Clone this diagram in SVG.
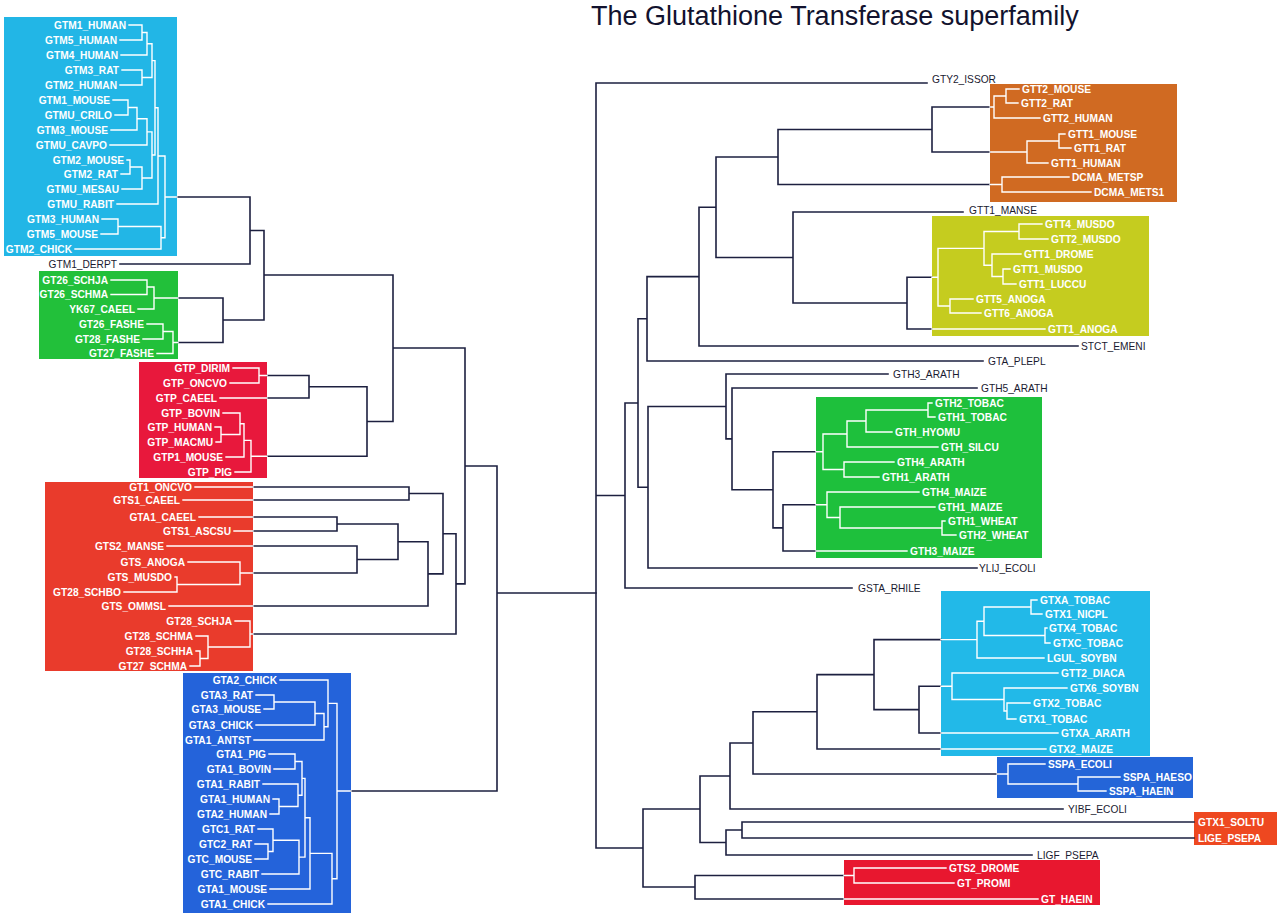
<svg xmlns="http://www.w3.org/2000/svg" width="1280" height="917" viewBox="0 0 1280 917">
<style>
.k{fill:none;stroke:#1d2040;stroke-width:1.6;stroke-linecap:square}
.w{fill:none;stroke:#ffffff;stroke-width:1.4;stroke-linecap:square}
.b{font-family:"Liberation Sans",Arial,sans-serif;font-weight:bold;font-size:10.2px;fill:#ffffff}
.e{text-anchor:end}
.o{font-family:"Liberation Sans",Arial,sans-serif;font-size:10.2px;fill:#1a1a30}
.t{font-family:"Liberation Sans",Arial,sans-serif;font-size:27px;fill:#12122e}
</style>
<rect width="1280" height="917" fill="#ffffff"/>
<text class="t" x="591" y="25">The Glutathione Transferase superfamily</text>

<g id="clade-mu">
<rect x="4" y="17" width="173" height="239" fill="#22b6e6"/>
<g class="b e">
<text x="126" y="28.6">GTM1_HUMAN</text>
<text x="117" y="43.6">GTM5_HUMAN</text>
<text x="118" y="58.6">GTM4_HUMAN</text>
<text x="119" y="73.6">GTM3_RAT</text>
<text x="117" y="88.6">GTM2_HUMAN</text>
<text x="110" y="103.6">GTM1_MOUSE</text>
<text x="112" y="118.6">GTMU_CRILO</text>
<text x="108" y="133.6">GTM3_MOUSE</text>
<text x="107" y="148.6">GTMU_CAVPO</text>
<text x="124" y="163.6">GTM2_MOUSE</text>
<text x="118" y="177.6">GTM2_RAT</text>
<text x="119" y="192.6">GTMU_MESAU</text>
<text x="114" y="207.6">GTMU_RABIT</text>
<text x="99" y="222.6">GTM3_HUMAN</text>
<text x="98" y="237.6">GTM5_MOUSE</text>
<text x="72" y="252.6">GTM2_CHICK</text>
</g>
</g>
<g id="leaf-GTM1_DERPT"><text class="o e" x="117" y="267.6">GTM1_DERPT</text></g>

<g id="clade-schisto">
<rect x="39" y="271" width="139" height="88" fill="#22c03a"/>
<g class="b e">
<text x="108" y="283.6">GT26_SCHJA</text>
<text x="108" y="298.1">GT26_SCHMA</text>
<text x="135" y="312.6">YK67_CAEEL</text>
<text x="144" y="327.6">GT26_FASHE</text>
<text x="140" y="342.6">GT28_FASHE</text>
<text x="154" y="357.1">GT27_FASHE</text>
</g>
</g>

<g id="clade-pi">
<rect x="139" y="362" width="128" height="116" fill="#e8183c"/>
<g class="b e">
<text x="230" y="371.6">GTP_DIRIM</text>
<text x="227" y="386.6">GTP_ONCVO</text>
<text x="217" y="401.6">GTP_CAEEL</text>
<text x="220" y="416.6">GTP_BOVIN</text>
<text x="212" y="430.6">GTP_HUMAN</text>
<text x="213" y="445.6">GTP_MACMU</text>
<text x="223" y="460.6">GTP1_MOUSE</text>
<text x="232" y="475.6">GTP_PIG</text>
</g>
</g>

<g id="clade-sigma">
<rect x="45" y="482" width="208" height="189" fill="#e93b2c"/>
<g class="b e">
<text x="192" y="490.6">GT1_ONCVO</text>
<text x="180" y="503.6">GTS1_CAEEL</text>
<text x="196" y="520.6">GTA1_CAEEL</text>
<text x="231" y="534.6">GTS1_ASCSU</text>
<text x="164" y="549.6">GTS2_MANSE</text>
<text x="185" y="565.6">GTS_ANOGA</text>
<text x="172" y="580.6">GTS_MUSDO</text>
<text x="121" y="595.6">GT28_SCHBO</text>
<text x="166" y="609.6">GTS_OMMSL</text>
<text x="232" y="624.6">GT28_SCHJA</text>
<text x="193" y="639.6">GT28_SCHMA</text>
<text x="193" y="654.6">GT28_SCHHA</text>
<text x="187" y="669.6">GT27_SCHMA</text>
</g>
</g>

<g id="clade-alpha">
<rect x="183" y="673" width="168" height="240" fill="#2463da"/>
<g class="b e">
<text x="277" y="683.6">GTA2_CHICK</text>
<text x="253" y="698.6">GTA3_RAT</text>
<text x="261" y="712.6">GTA3_MOUSE</text>
<text x="253" y="728.6">GTA3_CHICK</text>
<text x="251" y="743.6">GTA1_ANTST</text>
<text x="266" y="757.6">GTA1_PIG</text>
<text x="271" y="772.6">GTA1_BOVIN</text>
<text x="260" y="787.6">GTA1_RABIT</text>
<text x="270" y="802.6">GTA1_HUMAN</text>
<text x="267" y="817.6">GTA2_HUMAN</text>
<text x="255" y="832.6">GTC1_RAT</text>
<text x="252" y="847.6">GTC2_RAT</text>
<text x="252" y="862.6">GTC_MOUSE</text>
<text x="259" y="877.6">GTC_RABIT</text>
<text x="267" y="892.6">GTA1_MOUSE</text>
<text x="265" y="907.6">GTA1_CHICK</text>
</g>
</g>

<g id="leaf-GTY2_ISSOR"><text class="o" x="932" y="83.2">GTY2_ISSOR</text></g>

<g id="clade-theta-mammal">
<rect x="990" y="84" width="187" height="118" fill="#d06a22"/>
<g class="b">
<text x="1022" y="92.6">GTT2_MOUSE</text>
<text x="1021" y="106.6">GTT2_RAT</text>
<text x="1043" y="121.6">GTT2_HUMAN</text>
<text x="1068" y="137.6">GTT1_MOUSE</text>
<text x="1074" y="151.6">GTT1_RAT</text>
<text x="1051" y="166.6">GTT1_HUMAN</text>
<text x="1072" y="180.6">DCMA_METSP</text>
<text x="1094" y="195.6">DCMA_METS1</text>
</g>
</g>

<g id="leaf-GTT1_MANSE"><text class="o" x="969" y="214.2">GTT1_MANSE</text></g>

<g id="clade-theta-insect">
<rect x="932" y="216" width="217" height="120" fill="#c5cc1f"/>
<g class="b">
<text x="1045" y="227.6">GTT4_MUSDO</text>
<text x="1051" y="242.6">GTT2_MUSDO</text>
<text x="1024" y="257.6">GTT1_DROME</text>
<text x="1013" y="272.6">GTT1_MUSDO</text>
<text x="1019" y="287.6">GTT1_LUCCU</text>
<text x="976" y="302.6">GTT5_ANOGA</text>
<text x="984" y="316.6">GTT6_ANOGA</text>
<text x="1048" y="332.6">GTT1_ANOGA</text>
</g>
</g>

<g id="leaf-STCT_EMENI"><text class="o" x="1081" y="349.6">STCT_EMENI</text></g>
<g id="leaf-GTA_PLEPL"><text class="o" x="988" y="364.6">GTA_PLEPL</text></g>
<g id="leaf-GTH3_ARATH"><text class="o" x="893" y="377.6">GTH3_ARATH</text></g>
<g id="leaf-GTH5_ARATH"><text class="o" x="981" y="391.6">GTH5_ARATH</text></g>

<g id="clade-phi">
<rect x="816" y="397" width="226" height="161" fill="#1ec03c"/>
<g class="b">
<text x="935" y="406.6">GTH2_TOBAC</text>
<text x="938" y="420.6">GTH1_TOBAC</text>
<text x="895" y="435.6">GTH_HYOMU</text>
<text x="941" y="450.6">GTH_SILCU</text>
<text x="897" y="465.6">GTH4_ARATH</text>
<text x="882" y="480.6">GTH1_ARATH</text>
<text x="922" y="495.6">GTH4_MAIZE</text>
<text x="938" y="510.6">GTH1_MAIZE</text>
<text x="948" y="524.6">GTH1_WHEAT</text>
<text x="959" y="538.6">GTH2_WHEAT</text>
<text x="910" y="554.6">GTH3_MAIZE</text>
</g>
</g>

<g id="leaf-YLIJ_ECOLI"><text class="o" x="979" y="571.6">YLIJ_ECOLI</text></g>
<g id="leaf-GSTA_RHILE"><text class="o" x="858" y="591.6">GSTA_RHILE</text></g>

<g id="clade-tau">
<rect x="941" y="591" width="209" height="165" fill="#22b9e8"/>
<g class="b">
<text x="1040" y="603.6">GTXA_TOBAC</text>
<text x="1045" y="617.6">GTX1_NICPL</text>
<text x="1049" y="631.6">GTX4_TOBAC</text>
<text x="1053" y="646.6">GTXC_TOBAC</text>
<text x="1047" y="661.6">LGUL_SOYBN</text>
<text x="1061" y="676.6">GTT2_DIACA</text>
<text x="1070" y="691.6">GTX6_SOYBN</text>
<text x="1033" y="706.6">GTX2_TOBAC</text>
<text x="1019" y="722.6">GTX1_TOBAC</text>
<text x="1061" y="736.6">GTXA_ARATH</text>
<text x="1049" y="752.6">GTX2_MAIZE</text>
</g>
</g>

<g id="clade-sspa">
<rect x="997" y="757" width="196" height="41" fill="#2465d8"/>
<g class="b">
<text x="1048" y="767.6">SSPA_ECOLI</text>
<text x="1123" y="780.6">SSPA_HAESO</text>
<text x="1109" y="794.6">SSPA_HAEIN</text>
</g>
</g>

<g id="leaf-YIBF_ECOLI"><text class="o" x="1068" y="812.6">YIBF_ECOLI</text></g>

<g id="clade-lig">
<rect x="1194" y="812" width="83" height="33" fill="#ee4820"/>
<g class="b">
<text x="1198" y="825.6">GTX1_SOLTU</text>
<text x="1198" y="841.6">LIGE_PSEPA</text>
</g>
</g>

<g id="leaf-LIGF_PSEPA"><text class="o" x="1037" y="858.6">LIGF_PSEPA</text></g>

<g id="clade-beta">
<rect x="844" y="860" width="256" height="45" fill="#e8172f"/>
<g class="b">
<text x="949" y="871.6">GTS2_DROME</text>
<text x="957" y="886.6">GT_PROMI</text>
<text x="1041" y="902.6">GT_HAEIN</text>
</g>
</g>

<g id="connectors">
<path class="k" d="M177 197H250 M120 264H250 M250 197V264 M250 230.5H264 M264 230.5V320 M264 275H393 M178 298H223 M178 342.5H223 M223 298V342.5 M223 320H264 M267 375.5H309 M267 398H309 M309 375.5V398 M309 386.75H367 M267 456.2H367 M367 386.75V456.2 M367 421.5H393 M393 275V421.5 M393 348H465 M253 487H409 M253 500H409 M409 487V500 M409 493.5H443 M253 517H337 M253 531H337 M337 517V531 M337 524H398 M253 546H357 M253 573H357 M357 546V573 M357 559.5H398 M398 524V559.5 M398 541.75H428 M253 606H428 M428 541.75V606 M428 573.9H443 M443 493.5V573.9 M443 533.7H456 M253 634H456 M456 533.7V634 M456 583.85H465 M465 348V583.85 M465 466H497 M351 791H497 M497 466V791 M497 593H596"/>
<path class="k" d="M596 83V848 M596 83H927 M932 107H990 M932 152H990 M932 107V152 M778 129.5H932 M778 184.5H990 M778 129.5V184.5 M716 157H778 M793 212H963 M907 277.2H932 M907 329H932 M907 277.2V329 M793 303H907 M793 212V303 M716 257.5H793 M716 157V257.5 M699 207.25H716 M699 346H1078 M699 207.25V346 M647 276.6H699 M647 361H983 M647 276.6V361 M638 318.8H647 M726 374H888 M732 388H977 M773 451.75H816 M783 504.75H816 M783 551H816 M783 504.75V551 M773 527.9H783 M773 451.75V527.9 M732 489.8H773 M732 388V489.8 M726 438.9H732 M726 374V438.9 M648 406.5H726 M648 568H977 M648 406.5V568 M638 487.3H648 M638 318.8V487.3 M625 403H638 M625 588H852 M625 403V588 M596 495.5H625 M874 639.6H941 M919 686.25H941 M919 733H941 M919 686.25V733 M874 709.6H919 M874 639.6V709.6 M817 674.6H874 M817 749H941 M817 674.6V749 M753 711.8H817 M753 774H997 M753 711.8V774 M730 743H753 M730 809H1063 M730 743V809 M700 776H730 M742 822H1194 M742 838H1194 M742 822V838 M726 830H742 M726 855H1032 M726 830V855 M700 842.5H726 M700 776V842.5 M643 809H700 M695 875.5H844 M695 899H844 M695 875.5V899 M643 887H695 M643 809V887 M596 848H643"/>
<path class="w" d="M129 25H142 M120 40H142 M121 55H147 M122 70H142 M120 85H142 M113 100H128 M115 115H128 M111 130H137 M110 145H147 M127 160H130 M121 174H130 M122 189H142 M117 204H158 M102 219H118 M101 234H118 M75 249H161 M142 25V40 M142 32.5H147 M147 32.5V55 M142 70V85 M147 43.75H152 M142 77.5H152 M152 43.75V77.5 M128 100V115 M128 107.5H137 M137 107.5V130 M137 118.75H147 M147 118.75V145 M130 160V174 M130 167H142 M142 167V189 M147 131.9H152 M142 178H152 M152 131.9V178 M152 60.6H155 M152 155H155 M155 60.6V155 M155 107.8H158 M158 107.8V204 M118 219V234 M118 226.5H161 M161 226.5V249 M158 156H165 M161 237.75H165 M165 156V237.75 M165 197H177"/>
<path class="w" d="M111 280H147 M111 294.5H147 M138 309H154 M147 324H163 M143 339H163 M157 353.5H173 M147 280V294.5 M147 287H154 M154 287V309 M154 298H178 M163 324V339 M163 331.5H173 M173 331.5V353.5 M173 342.5H178"/>
<path class="w" d="M233 368H259 M230 383H259 M220 398H267 M223 413H240 M215 427H221 M216 442H221 M226 457H244 M235 472H251 M259 368V383 M259 375.5H267 M221 427V442 M221 434.5H240 M240 413V434.5 M240 423.75H244 M244 423.75V457 M244 440.4H251 M251 440.4V472 M251 456.2H267"/>
<path class="w" d="M195 487H253 M183 500H253 M199 517H253 M234 531H253 M167 546H253 M188 562H240 M175 577H177 M124 592H177 M169 606H253 M235 621H250 M196 636H208 M196 651H200 M190 666H200 M177 577V592 M177 584.5H240 M240 562V584.5 M240 573H253 M200 651V666 M200 658.5H208 M208 636V658.5 M208 647H250 M250 621V647 M250 634H253"/>
<path class="w" d="M280 680H328 M256 695H274 M264 709H274 M256 725H315 M254 740H324 M269 754H295 M274 769H295 M263 784H298 M273 799H279 M270 814H279 M258 829H273 M255 844H268 M255 859H268 M262 874H299 M270 889H310 M268 904H332 M274 695V709 M274 702H315 M315 702V725 M315 713.5H324 M324 713.5V740 M324 726.75H328 M328 680V726.75 M328 703.4H337 M295 754V769 M295 761.5H302 M279 799V814 M279 806.5H298 M298 784V806.5 M298 795.25H302 M302 761.5V795.25 M302 778.4H305 M268 844V859 M268 851.5H273 M273 829V851.5 M273 840.25H299 M299 840.25V874 M299 857.1H305 M305 778.4V857.1 M305 817.75H310 M310 817.75V889 M310 853.4H332 M332 853.4V904 M332 878.7H337 M337 703.4V878.7 M337 791H351"/>
<path class="w" d="M1006 89H1019 M1006 103H1018 M994 118H1040 M1059 134H1065 M1059 148H1071 M1027 163H1048 M1002 177H1069 M1002 192H1091 M1006 89V103 M994 96H1006 M994 96V118 M990 107H994 M1059 134V148 M1027 141H1059 M1027 141V163 M990 152H1027 M1002 177V192 M990 184.5H1002"/>
<path class="w" d="M1019 224H1042 M1019 239H1048 M992 254H1021 M1003 269H1010 M1003 284H1016 M950 299H973 M950 313H981 M932 329H1045 M1019 224V239 M984 231.5H1019 M1003 269V284 M992 276.5H1003 M992 254V276.5 M984 265.25H992 M984 231.5V265.25 M938 248.4H984 M950 299V313 M938 306H950 M938 248.4V306 M932 277.2H938"/>
<path class="w" d="M928 403H932 M928 417H935 M866 432H892 M847 447H938 M844 462H894 M844 477H879 M827 492H919 M840 507H935 M942 521H945 M942 535H956 M816 551H907 M928 403V417 M866 410H928 M866 410V432 M847 421H866 M847 421V447 M823 434H847 M844 462V477 M823 469.5H844 M823 434V469.5 M816 451.75H823 M942 521V535 M840 528H942 M840 507V528 M827 517.5H840 M827 492V517.5 M816 504.75H827"/>
<path class="w" d="M1031 600H1037 M1031 614H1042 M1045 628H1047 M1045 643H1050 M977 658H1044 M952 673H1058 M1004 688H1067 M1007 703H1030 M1007 719H1016 M941 733H1058 M941 749H1046 M1031 600V614 M984 607H1031 M1045 628V643 M984 635.5H1045 M984 607V635.5 M977 621.25H984 M977 621.25V658 M941 639.6H977 M1007 703V719 M1004 711H1007 M1004 688V711 M952 699.5H1004 M952 673V699.5 M941 686.25H952"/>
<path class="w" d="M1008 764H1045 M1078 777H1120 M1078 791H1106 M1078 777V791 M1008 784H1078 M1008 764V784 M997 774H1008"/>
<path class="w" d="M854 868H946 M854 883H954 M844 899H1038 M854 868V883 M844 875.5H854"/>
</g>
</svg>
